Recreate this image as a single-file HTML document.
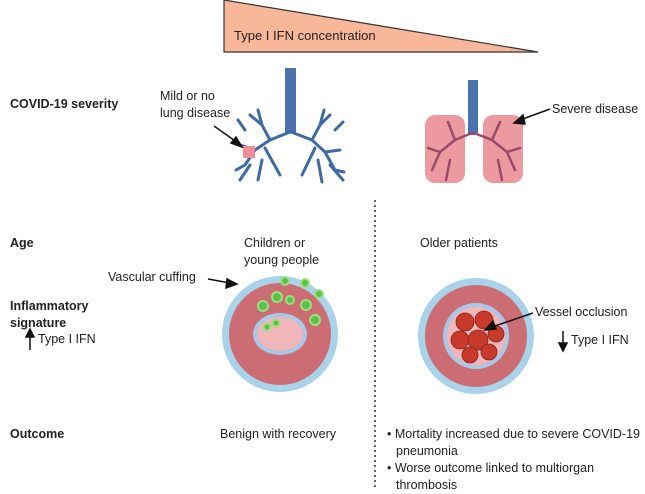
<!DOCTYPE html>
<html><head><meta charset="utf-8"><style>
body{margin:0;background:#fff}
svg text{font-family:"Liberation Sans",sans-serif;fill:#222}
</style></head><body>
<svg width="645" height="489" viewBox="0 0 645 489" xmlns="http://www.w3.org/2000/svg">
<polygon points="224,0 538,52 224,52" fill="#f9b79a" stroke="#333" stroke-width="1.2"/>
<text x="234" y="40" font-size="13">Type I IFN concentration</text>
<g font-size="12.5">
<text x="10" y="108" font-weight="bold" fill="#333">COVID-19 severity</text>
<text x="10" y="247" font-weight="bold">Age</text>
<text x="10" y="310" font-weight="bold">Inflammatory</text>
<text x="10" y="327" font-weight="bold">signature</text>
<text x="10" y="438" font-weight="bold">Outcome</text>
<text x="160" y="100">Mild or no</text>
<text x="160" y="117">lung disease</text>
<text x="552" y="113">Severe disease</text>
<text x="244" y="247">Children or</text>
<text x="244" y="264">young people</text>
<text x="420" y="247">Older patients</text>
<text x="108" y="281">Vascular cuffing</text>
<text x="38" y="343">Type I IFN</text>
<text x="535" y="316">Vessel occlusion</text>
<text x="571" y="344">Type I IFN</text>
<text x="220" y="438">Benign with recovery</text>
<text x="387" y="438" textLength="253" lengthAdjust="spacing">• Mortality increased due to severe COVID-19</text>
<text x="396" y="455">pneumonia</text>
<text x="387" y="472">• Worse outcome linked to multiorgan</text>
<text x="396" y="489">thrombosis</text>
</g>
<line x1="375" y1="200" x2="375" y2="489" stroke="#333" stroke-width="1.5" stroke-dasharray="2,3"/>
<g stroke="#3f6aa5" fill="none" stroke-linecap="round">
<rect x="285" y="68" width="11" height="65" fill="#4a72ad" stroke="none"/>
<path d="M290 132 L270 140 L255 150 L245 165 M270 140 L262 125 L250 115 M255 150 L240 145 M262 160 L258 180 M250 165 L240 180 M265 148 L280 175 M245 130 L238 120 M262 125 L258 110 M245 165 L236 170" stroke-width="3"/>
<path d="M291 132 L312 140 L325 152 L335 170 M312 140 L320 125 L330 115 M325 152 L340 150 M318 160 L322 182 M330 165 L343 180 M315 148 L302 175 M335 130 L343 122 M320 125 L324 110 M335 170 L344 172" stroke-width="3"/>
<rect x="425" y="115" width="40" height="68" rx="10" fill="#ec9aa0" stroke="none"/>
<rect x="483" y="115" width="40" height="68" rx="10" fill="#ec9aa0" stroke="none"/>
<rect x="468" y="80" width="10" height="55" fill="#4a72ad" stroke="none"/>
<path d="M472 133 L455 140 L440 152 L432 170 M455 140 L448 122 M440 152 L428 148 M450 160 L446 180" stroke="#9a4a6a" stroke-width="2.5"/>
<path d="M474 133 L492 140 L507 152 L515 170 M492 140 L500 122 M507 152 L520 148 M498 160 L502 180" stroke="#9a4a6a" stroke-width="2.5"/>
</g>
<rect x="243" y="146" width="12" height="12" fill="#ee8f96"/>
<circle cx="280" cy="334" r="58" fill="#a9d3ea"/>
<circle cx="280" cy="334" r="51" fill="#cc6d74"/>
<ellipse cx="280" cy="334" rx="27" ry="21" fill="#a9c7e6"/>
<ellipse cx="280" cy="334" rx="23" ry="17" fill="#f1b6b9"/>
<g fill="#58c24a" stroke="#9ee07e" stroke-width="2">
<circle cx="285" cy="281" r="4"/><circle cx="305" cy="283" r="4"/><circle cx="319" cy="294" r="4"/>
<circle cx="277" cy="297" r="5"/><circle cx="290" cy="300" r="4"/><circle cx="306" cy="305" r="5"/>
<circle cx="263" cy="306" r="5"/><circle cx="315" cy="320" r="5"/><circle cx="267" cy="327" r="3.5"/><circle cx="276" cy="323" r="3.5"/>
</g>
<circle cx="476" cy="336" r="58" fill="#a9d3ea"/>
<circle cx="476" cy="336" r="51" fill="#cc6d74"/>
<circle cx="476" cy="336" r="33" fill="#a9c7e6"/>
<circle cx="476" cy="336" r="29" fill="#f1b6b9"/>
<g fill="#c83a2a" stroke="#8a2018" stroke-width="0.8">
<circle cx="465" cy="322" r="9"/><circle cx="484" cy="320" r="9"/><circle cx="496" cy="334" r="8"/>
<circle cx="460" cy="340" r="9"/><circle cx="478" cy="340" r="10"/><circle cx="470" cy="355" r="8"/><circle cx="489" cy="352" r="8"/>
</g>
<g stroke="#111" stroke-width="1.5">
<line x1="214" y1="126" x2="238" y2="143"/><polygon points="242,147 231,143 236,137" fill="#111"/>
<line x1="550" y1="109" x2="520" y2="120"/><polygon points="514,123 523,115 525,124" fill="#111"/>
<line x1="208" y1="279" x2="230" y2="283"/><polygon points="237,284 227,279 226,288" fill="#111"/>
<line x1="533" y1="313" x2="492" y2="327"/><polygon points="485,330 493,321 496,329" fill="#111"/>
<line x1="30" y1="350" x2="30" y2="334"/><polygon points="30,329 26,337 34,337" fill="#111"/>
<line x1="563" y1="331" x2="563" y2="346"/><polygon points="563,351 559,343 567,343" fill="#111"/>
</g>
</svg>
</body></html>
